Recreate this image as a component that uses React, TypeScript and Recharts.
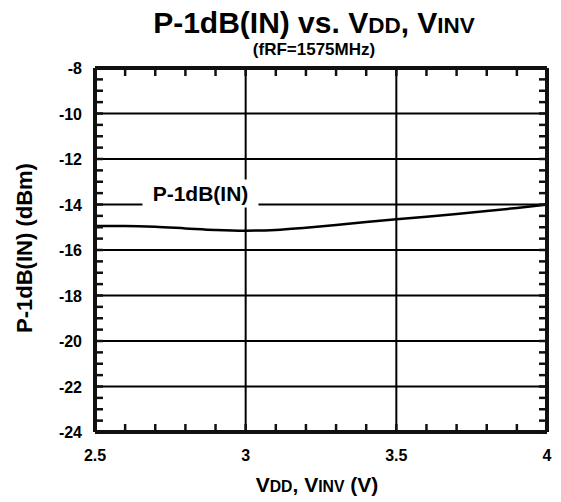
import React from "react";
import { LineChart, Line, XAxis, YAxis, ReferenceLine, ReferenceDot } from "recharts";

const vdd = [2.5, 2.6, 2.7, 2.8, 2.9, 3.0, 3.1, 3.2, 3.3, 3.4, 3.5, 3.6, 3.7, 3.8, 3.9, 4.0];
const p1dbIn = [-14.95, -14.95, -14.98, -15.05, -15.12, -15.15, -15.12, -15.02, -14.9, -14.77, -14.65, -14.54, -14.42, -14.29, -14.15, -14.0];

const xMajor = [2.5, 3, 3.5, 4];
const xMinor = [2.5, 2.6, 2.7, 2.8, 2.9, 3, 3.1, 3.2, 3.3, 3.4, 3.5, 3.6, 3.7, 3.8, 3.9, 4];
const yMajor = [-24, -22, -20, -18, -16, -14, -12, -10, -8];
const yMinor = [
  -24, -23.5, -23, -22.5, -22, -21.5, -21, -20.5, -20, -19.5, -19, -18.5, -18, -17.5, -17, -16.5,
  -16, -15.5, -15, -14.5, -14, -13.5, -13, -12.5, -12, -11.5, -11, -10.5, -10, -9.5, -9, -8.5, -8,
];

const seriesLabel = "P-1dB(IN)";
const labelAt = { x: 2.85, y: -14 };

const data = vdd.map((v, i) => ({ v, p: p1dbIn[i] }));

const FONT = "'Liberation Sans', Arial, sans-serif";
const INK = "#111";
const W = 561;
const H = 502;
const M = { top: 68, right: 14, bottom: 30, left: 10 };
const PLOT_TOP = M.top;
const PLOT_RIGHT = W - M.right;
const TICK_LEN = 8;

// minor ticks point inward, on both the bottom and top edges
function BottomTick(props: any) {
  const { x, y, payload } = props;
  const major = xMajor.includes(payload.value);
  return (
    <g>
      <line x1={x} y1={y} x2={x} y2={y - TICK_LEN} stroke={INK} strokeWidth={2.5} />
      <line x1={x} y1={PLOT_TOP} x2={x} y2={PLOT_TOP + TICK_LEN} stroke={INK} strokeWidth={2.5} />
      {major && (
        <text x={x} y={y + 29} textAnchor="middle" fontFamily={FONT} fontWeight="bold" fontSize={16} fill="#000">
          {String(payload.value)}
        </text>
      )}
    </g>
  );
}

// same for left and right edges
function LeftTick(props: any) {
  const { x, y, payload } = props;
  const major = yMajor.includes(payload.value);
  return (
    <g>
      <line x1={x} y1={y} x2={x + TICK_LEN} y2={y} stroke={INK} strokeWidth={2.5} />
      <line x1={PLOT_RIGHT} y1={y} x2={PLOT_RIGHT - TICK_LEN} y2={y} stroke={INK} strokeWidth={2.5} />
      {major && (
        <text x={x - 13} y={y + 6} textAnchor="end" fontFamily={FONT} fontWeight="bold" fontSize={16} fill="#000">
          {String(payload.value)}
        </text>
      )}
    </g>
  );
}

function SeriesTag(props: any) {
  const { cx, cy } = props;
  return (
    <g>
      <rect x={cx - 58} y={cy - 25} width={116} height={28} fill="#fff" />
      <text x={cx} y={cy - 4} textAnchor="middle" fontFamily={FONT} fontWeight="bold" fontSize={21} fill="#000">
        {seriesLabel}
      </text>
    </g>
  );
}

const small = { fontSize: "0.75em" };

export default function App() {
  return (
    <div style={{ position: "absolute", left: 0, top: 0, width: W, height: H, background: "#fff", fontFamily: FONT, color: "#000" }}>
      <LineChart width={W} height={H} data={data} margin={M}>
        <XAxis
          dataKey="v"
          type="number"
          domain={[2.5, 4]}
          ticks={xMinor}
          interval={0}
          height={40}
          tickSize={0}
          tickMargin={0}
          tickLine={false}
          tick={BottomTick}
          axisLine={false}
        />
        <YAxis
          type="number"
          domain={[-24, -8]}
          ticks={yMinor}
          interval={0}
          width={85}
          tickSize={0}
          tickMargin={0}
          tickLine={false}
          tick={LeftTick}
          axisLine={false}
        />
        {xMajor.slice(1, -1).map((v) => (
          <ReferenceLine key={`x${v}`} x={v} stroke="#000" strokeWidth={2} />
        ))}
        {yMajor.slice(1, -1).map((v) => (
          <ReferenceLine key={`y${v}`} y={v} stroke="#000" strokeWidth={2} />
        ))}
        <ReferenceDot x={labelAt.x} y={labelAt.y} r={1} shape={SeriesTag} />
        <Line type="monotone" dataKey="p" stroke="#000" strokeWidth={2.5} dot={false} isAnimationActive={false} />
        {/* plot frame */}
        <ReferenceLine x={xMajor[0]} stroke={INK} strokeWidth={4} ifOverflow="visible" />
        <ReferenceLine x={xMajor[xMajor.length - 1]} stroke={INK} strokeWidth={4} ifOverflow="visible" />
        <ReferenceLine y={yMajor[0]} stroke={INK} strokeWidth={4} ifOverflow="visible" />
        <ReferenceLine y={yMajor[yMajor.length - 1]} stroke={INK} strokeWidth={4} ifOverflow="visible" />
      </LineChart>

      <div style={{ position: "absolute", left: 64, top: 8, width: 500, textAlign: "center", fontSize: 30, lineHeight: "30px", fontWeight: "bold" }}>
        P-1dB(IN) vs. V<span style={small}>DD</span>, V<span style={small}>INV</span>
      </div>
      <div style={{ position: "absolute", left: 164, top: 41, width: 300, textAlign: "center", fontSize: 17, lineHeight: "17px", fontWeight: "bold" }}>
        (fRF=1575MHz)
      </div>
      <div style={{ position: "absolute", left: 167, top: 474, width: 300, textAlign: "center", fontSize: 21, lineHeight: "21px", fontWeight: "bold" }}>
        V<span style={small}>DD</span>, V<span style={small}>INV</span> (V)
      </div>
      <div
        style={{
          position: "absolute",
          left: -125,
          top: 234,
          width: 300,
          height: 28,
          textAlign: "center",
          fontSize: 22,
          lineHeight: "28px",
          fontWeight: "bold",
          transform: "rotate(-90deg)",
        }}
      >
        P-1dB(IN) (dBm)
      </div>
    </div>
  );
}
